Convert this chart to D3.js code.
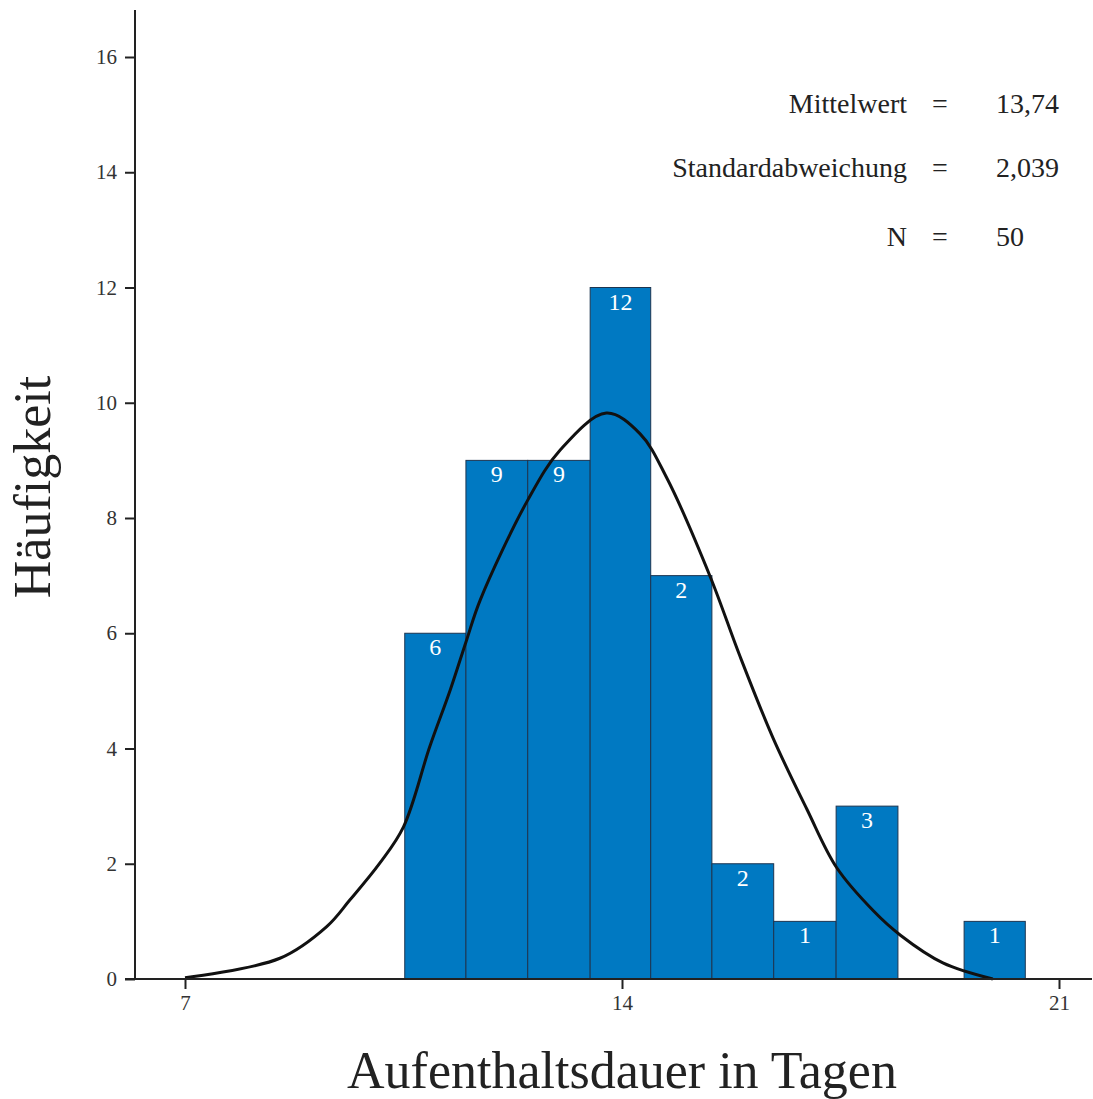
<!doctype html>
<html lang="de">
<head>
<meta charset="utf-8">
<title>Häufigkeit</title>
<style>
  body { margin: 0; background: white; }
  svg { display: block; background: white; }
  text { font-family: "Liberation Serif", "DejaVu Serif", serif; }
  .axis path, .axis line { fill: none; stroke: #222; stroke-width: 2px; }
  .axis text { font-size: 21px; fill: #333; }
  .bar { fill: #0079c2; stroke: #1d3550; stroke-width: 1px; }
  .barlabel { fill: white; font-size: 24px; text-anchor: middle; }
  .curve { fill: none; stroke: #111; stroke-width: 3px; }
  .stat { font-size: 28px; fill: #222; }
  .title { font-size: 52px; fill: #222; }
</style>
</head>
<body>
<script src="https://cdnjs.cloudflare.com/ajax/libs/d3/7.8.5/d3.min.js"></script>
<script>
// bins (Aufenthaltsdauer in Tagen)
var binStart = [10.52, 11.50, 12.49, 13.49, 14.46, 15.44, 16.43, 17.43, 19.48];
var binEnd   = [11.50, 12.49, 13.49, 14.46, 15.44, 16.43, 17.43, 18.42, 20.46];
var counts   = [6, 9, 9, 12, 7, 2, 1, 3, 1];
var barLabels = ["6", "9", "9", "12", "2", "2", "1", "3", "1"];

// normal curve
var curveX = [7.0, 8.52, 9.27, 9.64, 10.12, 10.50, 10.92, 11.25, 11.51, 11.73, 12.49, 13.01, 13.75, 14.29, 14.72, 15.41, 15.89, 16.42, 16.96, 17.44, 18.03, 18.46, 19.14, 19.94];
var curveY = [0.02, 0.36, 0.91, 1.37, 2.01, 2.64, 4.03, 5.02, 5.88, 6.58, 8.31, 9.18, 9.82, 9.46, 8.69, 6.99, 5.60, 4.18, 2.95, 1.93, 1.18, 0.76, 0.28, 0.0];

var xTicks = [7, 14, 21];
var yTicks = [0, 2, 4, 6, 8, 10, 12, 14, 16];

var statNames  = ["Mittelwert", "Standardabweichung", "N"];
var statValues = ["13,74", "2,039", "50"];

var W = 1093, H = 1099;
var svg = d3.select("body").append("svg").attr("width", W).attr("height", H);

var x = d3.scaleLinear().domain([7, 21]).range([185, 1059]);
var y = d3.scaleLinear().domain([0, 16]).range([979, 57]);

// bars
var bars = svg.append("g");
bars.selectAll("rect")
  .data(counts)
  .enter()
  .append("rect")
  .attr("class", "bar")
  .attr("x", function(d, i) { return x(binStart[i]); })
  .attr("width", function(d, i) { return x(binEnd[i]) - x(binStart[i]); })
  .attr("y", function(d) { return y(d); })
  .attr("height", function(d) { return y(0) - y(d); });

bars.selectAll("text")
  .data(counts)
  .enter()
  .append("text")
  .attr("class", "barlabel")
  .attr("x", function(d, i) { return (x(binStart[i]) + x(binEnd[i])) / 2; })
  .attr("y", function(d) { return y(d) + 22; })
  .text(function(d, i) { return barLabels[i]; });

// curve
var pts = curveX.map(function(v, i) { return [v, curveY[i]]; });
var line = d3.line()
  .x(function(d) { return x(d[0]); })
  .y(function(d) { return y(d[1]); })
  .curve(d3.curveCatmullRom);
svg.append("path").datum(pts).attr("class", "curve").attr("d", line);

// axes
var xAxis = d3.axisBottom(x).tickValues(xTicks).tickSize(10).tickPadding(6);
var gx = svg.append("g").attr("class", "axis").attr("transform", "translate(0," + y(0) + ")").call(xAxis);
gx.attr("font-family", null);
gx.select(".domain").remove();
gx.append("line").attr("x1", 125).attr("x2", 1092).attr("y1", 0).attr("y2", 0);

var yAxis = d3.axisLeft(y).tickValues(yTicks).tickSize(10).tickPadding(8);
var gy = svg.append("g").attr("class", "axis").attr("transform", "translate(135,0)").call(yAxis);
gy.attr("font-family", null);
gy.select(".domain").remove();
gy.append("line").attr("x1", 0).attr("x2", 0).attr("y1", 10).attr("y2", y(0));

// titles
svg.append("text").attr("class", "title")
  .attr("x", 622).attr("y", 1088).attr("text-anchor", "middle")
  .text("Aufenthaltsdauer in Tagen");
svg.append("text").attr("class", "title")
  .attr("transform", "translate(50,487) rotate(-90)")
  .attr("text-anchor", "middle")
  .text("Häufigkeit");

// statistics box
var statY = [113, 177, 246];
var stats = svg.append("g");
statNames.forEach(function(n, i) {
  stats.append("text").attr("class", "stat").attr("x", 907).attr("y", statY[i]).attr("text-anchor", "end").text(n);
  stats.append("text").attr("class", "stat").attr("x", 940).attr("y", statY[i]).attr("text-anchor", "middle").text("=");
  stats.append("text").attr("class", "stat").attr("x", 996).attr("y", statY[i]).text(statValues[i]);
});
</script>
</body>
</html>
